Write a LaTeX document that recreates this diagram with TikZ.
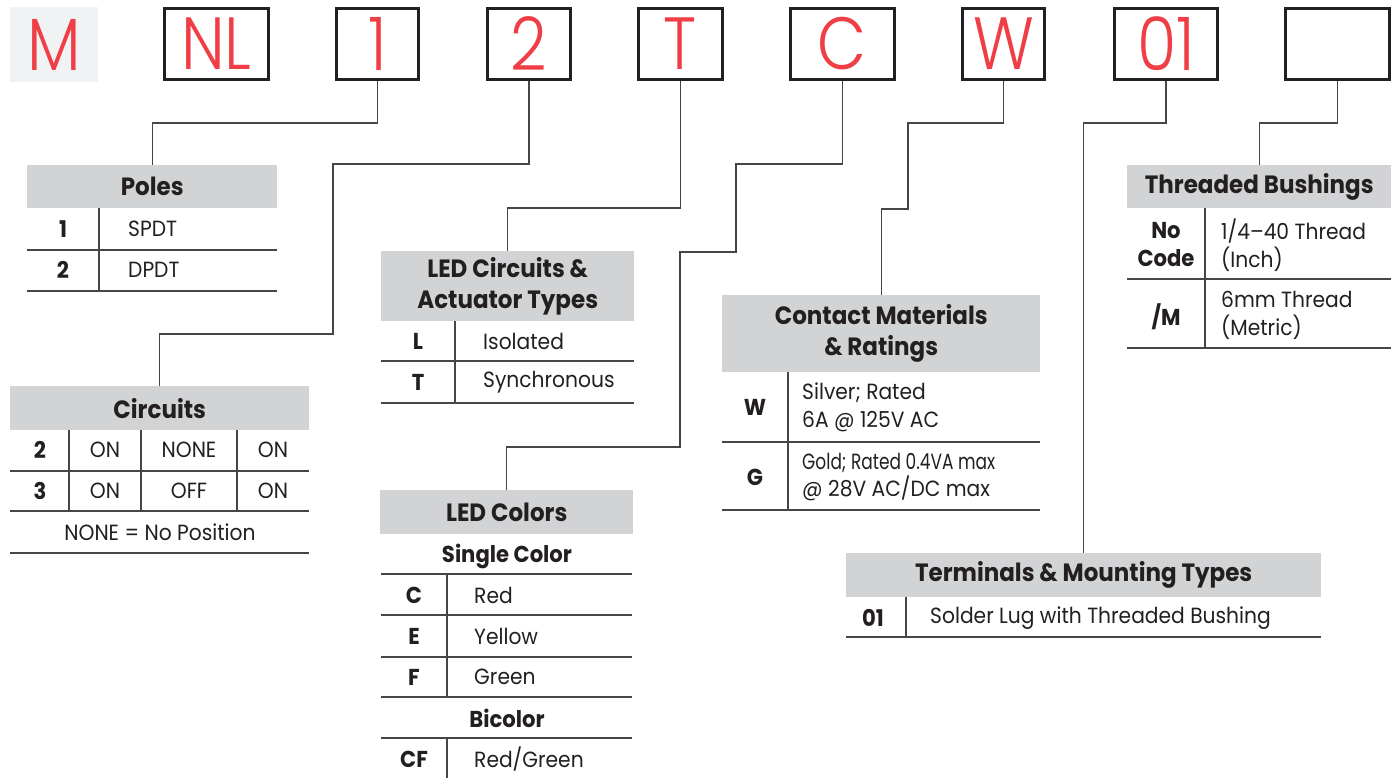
\documentclass[tikz,border=0pt]{standalone}
\usepackage{fontspec}
\usepackage{graphicx}
\usepackage{xcolor}
\usepackage{tikz}
\setmainfont{Poppins}[FakeStretch=0.92]
\newfontfamily\codefont{Poppins Light}[FakeStretch=0.86]
\definecolor{codered}{RGB}{239,62,69}
\definecolor{hdrgrey}{RGB}{209,211,212}
\definecolor{mgrey}{RGB}{241,242,244}
\definecolor{ink}{RGB}{35,31,32}
\definecolor{rulegrey}{RGB}{70,70,72}
\tikzset{
	every node/.style={text=ink},
	codebox/.style={draw=ink,line width=3pt,minimum height=71pt,inner sep=0pt,text=codered,font=\codefont\fontsize{74}{74}\selectfont},
	hdr/.style={fill=hdrgrey,anchor=north west,inner sep=0pt,align=center,font=\bfseries\fontsize{25}{31}\selectfont},
	key/.style={inner sep=0pt,align=center,font=\bfseries\fontsize{23}{28}\selectfont},
	cell/.style={inner sep=0pt,font=\fontsize{22}{28}\selectfont},
	val/.style={cell,anchor=west,align=left},
	rule/.style={draw=rulegrey,line width=1.4pt},
	wire/.style={draw=rulegrey,line width=1.3pt}
}

\begin{document}
\begin{tikzpicture}[x=1pt,y=-1pt]
			\useasboundingbox (0,0) rectangle (1394,778);
			\node[fill=mgrey,minimum width=88pt,minimum height=75pt,inner sep=0pt,text=codered,font=\codefont\fontsize{74}{74}\selectfont] (bM) at (54,44.5) {M};
			\node[codebox,minimum width=104pt] (bNL) at (216.5,44) {NL};
			\node[codebox,minimum width=82pt] (b1) at (377.5,44) {1};
			\node[codebox,minimum width=83pt] (b2) at (529,44) {2};
			\node[codebox,minimum width=84pt] (bT) at (680.5,44) {T};
			\node[codebox,minimum width=104pt] (bC) at (842.5,44) {C};
			\node[codebox,minimum width=82pt] (bW) at (1003.5,44) {W};
			\node[codebox,minimum width=103pt] (b01) at (1166,44) {01};
			\node[codebox,minimum width=104pt] (bX) at (1337.5,44) {};

			\node[hdr,minimum width=250pt,minimum height=43pt] (poles) at (27,165) {Poles};
			\node[hdr,minimum width=299pt,minimum height=44pt] (circ) at (10,386) {Circuits};
			\node[hdr,minimum width=253pt,minimum height=70pt] (led) at (381,251) {LED Circuits \&\\Actuator Types};
			\node[hdr,minimum width=253pt,minimum height=44pt] (colors) at (380,490) {LED Colors};
			\node[hdr,minimum width=318pt,minimum height=77pt] (contact) at (722,295) {Contact Materials\\\& Ratings};
			\node[hdr,minimum width=475pt,minimum height=44pt] (term) at (846,553) {Terminals \& Mounting Types};
			\node[hdr,minimum width=264pt,minimum height=43pt] (bush) at (1127,165) {Threaded Bushings};

			\draw[wire] (b1.south) |- (poles.north |- 0,123) -- (poles.north);
			\draw[wire] (b2.south) |- (333,164) |- (circ.north |- 0,334) -- (circ.north);
			\draw[wire] (bT.south) |- (led.north |- 0,208) -- (led.north);
			\draw[wire] (bC.south) |- (736,164) |- (680,252) |- (colors.north |- 0,447) -- (colors.north);
			\draw[wire] (bW.south) |- (908,123) |- (contact.north |- 0,209) -- (contact.north);
			\draw[wire] (b01.south) |- (term.north |- 0,123) -- (term.north);
			\draw[wire] (bX.south) |- (bush.north |- 0,123) -- (bush.north);

			\draw[rule] (99,208) -- (99,291);
			\foreach \y in {250,291} \draw[rule] (27,\y) -- (277,\y);
			\node[key] (p1k) at (63,229) {1};
			\node[val] (p1v) at (128,229) {SPDT};
			\node[key] (p2k) at (63,270) {2};
			\node[val] (p2v) at (128,270) {DPDT};

			\foreach \x in {69,141,237} \draw[rule] (\x,430) -- (\x,511);
			\foreach \y in {471,511,553} \draw[rule] (10,\y) -- (309,\y);
			\node[key] (c2k) at (40,450) {2};
			\node[cell] (c2a) at (105,450) {ON};
			\node[cell] (c2b) at (189,450) {NONE};
			\node[cell] (c2c) at (273,450) {ON};
			\node[key] (c3k) at (40,491) {3};
			\node[cell] (c3a) at (105,491) {ON};
			\node[cell] (c3b) at (189,491) {OFF};
			\node[cell] (c3c) at (273,491) {ON};
			\node[cell] (cnote) at (160,532) {NONE = No Position};

			\draw[rule] (455,321) -- (455,403);
			\foreach \y in {361,403} \draw[rule] (381,\y) -- (634,\y);
			\node[key] (lLk) at (418,341) {L};
			\node[val] (lLv) at (483,341) {Isolated};
			\node[key] (lTk) at (418,382) {T};
			\node[val] (lTv) at (483,382) {Synchronous};

			\node[key] (single) at (507,556) {Single Color};
			\node[key] (bicol) at (507,718) {Bicolor};
			\draw[rule] (447,574) -- (447,697) (447,738) -- (447,778);
			\foreach \y in {574,615,657,697,738} \draw[rule] (381,\y) -- (632,\y);
			\node[key] (kC) at (414,595) {C};
			\node[val] (vC) at (474,595) {Red};
			\node[key] (kE) at (414,636) {E};
			\node[val] (vE) at (474,636) {Yellow};
			\node[key] (kF) at (414,677) {F};
			\node[val] (vF) at (474,677) {Green};
			\node[key] (kCF) at (414,759) {CF};
			\node[val] (vCF) at (474,759) {Red/Green};

			\draw[rule] (788,372) -- (788,510);
			\foreach \y in {442,510} \draw[rule] (722,\y) -- (1040,\y);
			\node[key] (kW) at (755,407) {W};
			\node[val] (vW) at (802,407) {Silver; Rated\\6A @ 125V AC};
			\node[key] (kG) at (755,477) {G};
			\node[val,font=\fontsize{22}{27}\selectfont] (vG) at (802,477) {\scalebox{0.84}[1]{Gold; Rated 0.4VA max}\\@ 28V AC/DC max};

			\draw[rule] (906,597) -- (906,637) (846,637) -- (1321,637);
			\node[key] (k01) at (873,618) {01};
			\node[val] (v01) at (930,618) {Solder Lug with Threaded Bushing};

			\draw[rule] (1205,208) -- (1205,348);
			\foreach \y in {279,348} \draw[rule] (1127,\y) -- (1391,\y);
			\node[key] (kNo) at (1166,245) {No\\Code};
			\node[val] (vNo) at (1221,245) {1/4–40 Thread\\(Inch)};
			\node[key] (kM) at (1166,317) {/M};
			\node[val] (vM) at (1221,315) {6mm Thread\\(Metric)};
		\end{tikzpicture}
\end{document}
